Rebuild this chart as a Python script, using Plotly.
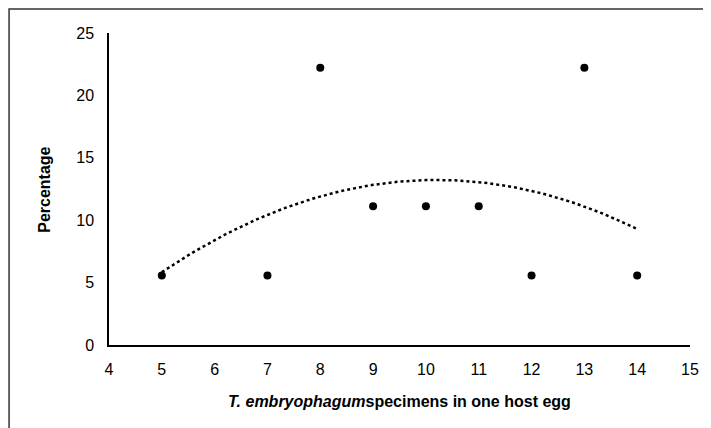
import numpy as np
import plotly.graph_objects as go

specimens = [5, 7, 8, 9, 10, 11, 12, 13, 14]
percentage = [5.56, 5.56, 22.22, 11.11, 11.11, 11.11, 5.56, 22.22, 5.56]
x_ticks = list(range(4, 16))
y_ticks = [0, 5, 10, 15, 20, 25]

# order-2 polynomial trendline fitted from the data
coef = np.polyfit(specimens, percentage, 2)
xt = np.linspace(min(specimens), max(specimens), 100)
yt = np.polyval(coef, xt)

fig = go.Figure()
fig.add_trace(go.Scatter(x=xt, y=yt, mode="lines",
                         line=dict(color="black", width=2.5, dash="dot"),
                         hoverinfo="skip", showlegend=False))
fig.add_trace(go.Scatter(x=specimens, y=percentage, mode="markers",
                         marker=dict(color="black", size=8), showlegend=False))

font = "Liberation Sans, Arial, sans-serif"
fig.update_layout(
    width=703, height=420,
    margin=dict(l=101, r=18, t=25, b=83),
    paper_bgcolor="white", plot_bgcolor="white",
    font=dict(family=font, size=16, color="black"),
    xaxis=dict(range=[4, 15], tickvals=x_ticks, showgrid=False, zeroline=False,
               showline=True, linecolor="black", linewidth=1.5, ticks="",
               ticklabelstandoff=9, tickfont=dict(size=16)),
    yaxis=dict(range=[0, 25], tickvals=y_ticks, showgrid=False, zeroline=False,
               showline=True, linecolor="black", linewidth=1.5, ticks="",
               ticklabelstandoff=10, tickfont=dict(size=16)),
    shapes=[dict(type="rect", xref="paper", yref="paper",
                 x0=-0.172, x1=1.5, y0=-0.6, y1=1.077,
                 line=dict(color="#333333", width=1.5), layer="below")],
    annotations=[
        dict(text="<b><i>T. embryophagum</i>specimens in one host egg</b>",
             xref="paper", yref="paper", x=0.5, y=-0.181,
             showarrow=False, xanchor="center", yanchor="middle",
             font=dict(size=16)),
        dict(text="<b>Percentage</b>", xref="paper", yref="paper",
             x=-0.111, y=0.496, textangle=-90, showarrow=False,
             xanchor="center", yanchor="middle", font=dict(size=16)),
    ],
)
fig.write_html("out.html")
